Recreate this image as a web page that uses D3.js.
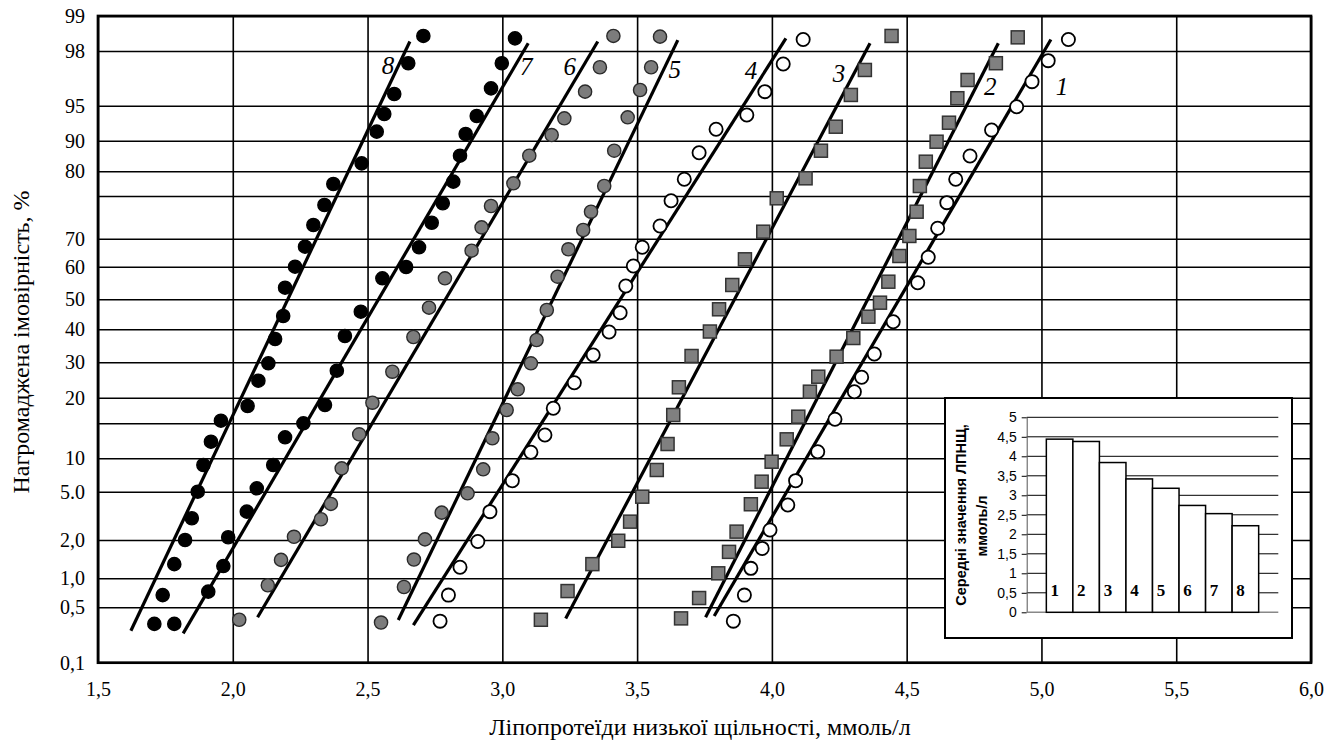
<!DOCTYPE html>
<html>
<head>
<meta charset="utf-8">
<script src="https://cdnjs.cloudflare.com/ajax/libs/d3/7.8.5/d3.min.js"></script>
<style>
  body { margin: 0; background: #fff; }
  svg text { fill: #000; }
</style>
</head>
<body>
<div id="chart"></div>
<script>
// ---- data: LDL values (mmol/l) and cumulative probability (%) per group ----
var s1x = [5.100, 5.025, 4.965, 4.908, 4.815, 4.735, 4.682, 4.649, 4.615, 4.580, 4.541, 4.450, 4.380, 4.333, 4.306, 4.234, 4.170, 4.088, 4.059, 3.993, 3.964, 3.922, 3.898, 3.857];
var s1p = [98.33, 97.47, 96.32, 94.86, 91.53, 85.0, 78.38, 74.22, 71.22, 63.36, 55.09, 42.53, 32.52, 25.76, 21.7, 15.78, 10.94, 6.65, 4.17, 2.62, 1.78, 1.26, 0.71, 0.4];

var s2x = [4.912, 4.831, 4.726, 4.688, 4.657, 4.611, 4.571, 4.549, 4.537, 4.510, 4.473, 4.432, 4.401, 4.358, 4.302, 4.240, 4.172, 4.141, 4.098, 4.055, 3.999, 3.962, 3.922, 3.869, 3.841, 3.801, 3.730, 3.663];
var s2p = [98.39, 97.33, 96.41, 95.41, 92.57, 89.67, 83.14, 77.02, 73.16, 70.32, 63.82, 55.4, 48.87, 44.2, 37.36, 31.7, 25.93, 21.7, 16.29, 12.71, 9.49, 6.5, 4.22, 2.52, 1.69, 1.13, 0.66, 0.42];

var s3x = [4.444, 4.345, 4.293, 4.237, 4.182, 4.125, 4.018, 3.968, 3.900, 3.853, 3.804, 3.770, 3.702, 3.655, 3.634, 3.613, 3.573, 3.519, 3.474, 3.430, 3.334, 3.242, 3.143];
var s3p = [98.43, 96.96, 95.59, 92.0, 86.73, 78.58, 74.73, 70.82, 62.64, 54.39, 46.67, 39.33, 31.91, 22.94, 16.62, 12.04, 8.25, 4.69, 3.14, 1.98, 1.37, 0.78, 0.41];

var s4x = [4.116, 4.042, 3.974, 3.907, 3.793, 3.730, 3.675, 3.626, 3.585, 3.519, 3.486, 3.458, 3.437, 3.396, 3.337, 3.267, 3.189, 3.158, 3.106, 3.037, 2.954, 2.909, 2.843, 2.800, 2.769];
var s4p = [98.33, 97.29, 95.77, 93.67, 91.63, 86.08, 78.38, 74.45, 71.49, 66.93, 60.25, 54.08, 45.53, 39.18, 32.21, 24.24, 17.93, 13.33, 10.86, 6.65, 3.76, 1.96, 1.29, 0.71, 0.4];

var s5x = [3.585, 3.552, 3.511, 3.465, 3.415, 3.378, 3.329, 3.300, 3.245, 3.205, 3.165, 3.127, 3.106, 3.057, 3.016, 2.963, 2.929, 2.871, 2.775, 2.713, 2.672, 2.635, 2.550];
var s5p = [98.41, 97.11, 95.86, 93.34, 86.73, 77.02, 73.16, 71.02, 66.22, 56.93, 46.43, 36.76, 29.72, 22.37, 17.6, 12.86, 8.35, 4.9, 3.7, 2.04, 1.49, 0.85, 0.39];

var s6x = [3.412, 3.362, 3.307, 3.230, 3.183, 3.100, 3.041, 2.958, 2.923, 2.886, 2.787, 2.728, 2.670, 2.592, 2.518, 2.469, 2.404, 2.364, 2.327, 2.227, 2.179, 2.130, 2.024];
var s6p = [98.43, 97.11, 95.77, 93.2, 90.81, 85.1, 77.57, 73.83, 71.33, 65.72, 56.44, 47.2, 37.67, 27.34, 19.02, 13.43, 8.5, 4.24, 3.29, 2.2, 1.48, 0.88, 0.41];

var s7x = [3.047, 2.998, 2.958, 2.905, 2.864, 2.843, 2.818, 2.779, 2.738, 2.691, 2.643, 2.555, 2.475, 2.416, 2.386, 2.342, 2.262, 2.194, 2.150, 2.089, 2.052, 1.983, 1.965, 1.909];
var s7p = [98.36, 97.33, 95.95, 93.53, 90.96, 85.1, 77.9, 74.15, 71.87, 66.93, 59.9, 56.44, 45.87, 37.97, 27.63, 18.57, 15.0, 13.0, 9.0, 5.51, 3.76, 2.17, 1.32, 0.77];

var s8x = [2.707, 2.651, 2.599, 2.562, 2.534, 2.478, 2.373, 2.340, 2.299, 2.268, 2.231, 2.194, 2.187, 2.157, 2.132, 2.095, 2.055, 1.956, 1.919, 1.891, 1.870, 1.848, 1.823, 1.783, 1.740, 1.709, 1.783];
var s8p = [98.43, 97.33, 95.64, 93.81, 91.29, 82.6, 77.43, 73.95, 71.6, 67.14, 60.0, 53.56, 44.43, 37.06, 29.72, 24.8, 18.38, 15.51, 12.37, 9.0, 5.0, 3.35, 2.0, 1.37, 0.71, 0.38, 0.38];

var groups = ["1", "2", "3", "4", "5", "6", "7", "8"];

// fitted lines: upper and lower end of each group's line
var fitX1 = [5.035, 4.840, 4.364, 4.052, 3.651, 3.354, 3.096, 2.657];
var fitP1 = [98.33, 98.22, 98.22, 98.36, 98.31, 98.27, 98.22, 98.27];
var fitX2 = [3.786, 3.754, 3.235, 2.670, 2.614, 2.092, 1.816, 1.622];
var fitP2 = [0.437, 0.428, 0.42, 0.372, 0.408, 0.428, 0.312, 0.331];

// axis ticks
var xTicks = [1.5, 2.0, 2.5, 3.0, 3.5, 4.0, 4.5, 5.0, 5.5, 6.0];
var probTicks = [99, 98, 95, 90, 80, 75, 70, 60, 50, 40, 30, 20, 15, 10, 5, 2, 1, 0.5, 0.1];
var probLabels = ["99", "98", "95", "90", "80", "", "70", "60", "50", "40", "30", "20", "", "10", "5.0", "2,0", "1,0", "0,5", "0,1"];

// inset: mean LDL per group
var barMeans = [4.44, 4.38, 3.84, 3.42, 3.18, 2.74, 2.53, 2.22];
var barTicks = [0, 0.5, 1, 1.5, 2, 2.5, 3, 3.5, 4, 4.5, 5];

// ---- layout ----
var W = 1340, H = 742;
var plot = { left: 98, right: 1311, top: 16, bottom: 662.7 };
// the probability paper rows are hand spaced
var gridY = [16, 51, 105.7, 140.7, 171.3, 196, 238.7, 266.7, 299.3, 329.3, 362.3, 397.7, 423.3, 458.3, 491.7, 540, 578.3, 607.3, 662.7];
var markerType = ["open", "square", "square", "open", "gray", "gray", "black", "black"];
var labelOffsets = [[11, 47], [-8, 43], [-31, 30], [-35, 32], [-3, 29], [-28, 25], [-2, 23], [-22, 24]];
var inset = { left: 945, top: 398, right: 1292, bottom: 638, plotLeft: 1026.7, plotRight: 1278.3, plotTop: 417.3, plotBottom: 612.3 };

var serif = "'Liberation Serif', 'Times New Roman', Times, serif";
var sans = "'Liberation Sans', Arial, Helvetica, sans-serif";

var svg = d3.select("#chart").append("svg")
    .attr("width", W)
    .attr("height", H)
    .attr("font-family", serif);

svg.append("rect").attr("width", W).attr("height", H).attr("fill", "#fff");

var x = d3.scaleLinear().domain([1.5, 6]).range([plot.left, plot.right]);
var y = d3.scaleLinear().domain(probTicks).range(gridY);

// horizontal rows + labels
var yAxis = svg.append("g")
    .attr("transform", "translate(" + plot.left + ",0)")
    .call(d3.axisLeft(y)
        .tickValues(probTicks)
        .tickFormat(function (d, i) { return probLabels[i]; })
        .tickSizeInner(-(plot.right - plot.left))
        .tickSizeOuter(0)
        .tickPadding(13));
yAxis.attr("font-family", serif).attr("font-size", 20);
yAxis.select(".domain").remove();
yAxis.selectAll("line").attr("stroke", "#000").attr("stroke-width", 1.6);

// vertical columns + labels
var xAxis = svg.append("g")
    .attr("transform", "translate(0," + plot.bottom + ")")
    .call(d3.axisBottom(x)
        .tickValues(xTicks)
        .tickFormat(function (d) { return d.toFixed(1).replace(".", ","); })
        .tickSizeInner(-(plot.bottom - plot.top))
        .tickSizeOuter(0)
        .tickPadding(19));
xAxis.attr("font-family", serif).attr("font-size", 20);
xAxis.select(".domain").remove();
xAxis.selectAll("line").attr("stroke", "#000").attr("stroke-width", 1.6);

// frame
svg.append("rect")
    .attr("x", plot.left)
    .attr("y", plot.top)
    .attr("width", plot.right - plot.left)
    .attr("height", plot.bottom - plot.top)
    .attr("fill", "none")
    .attr("stroke", "#000")
    .attr("stroke-width", 2.7);

// axis titles
svg.append("text")
    .attr("transform", "translate(21,342) rotate(-90)")
    .attr("text-anchor", "middle")
    .attr("dominant-baseline", "central")
    .attr("font-size", 24)
    .text("Нагромаджена імовірність, %");

svg.append("text")
    .attr("x", 700)
    .attr("y", 735)
    .attr("text-anchor", "middle")
    .attr("font-size", 24)
    .text("Ліпопротеїди низької щільності, ммоль/л");

// fitted lines
svg.append("g").selectAll("line")
    .data(groups)
    .enter()
    .append("line")
    .attr("x1", function (d, i) { return x(fitX1[i]); })
    .attr("y1", function (d, i) { return y(fitP1[i]); })
    .attr("x2", function (d, i) { return x(fitX2[i]); })
    .attr("y2", function (d, i) { return y(fitP2[i]); })
    .attr("stroke", "#000")
    .attr("stroke-width", 3.2);

// points
var seriesX = [s1x, s2x, s3x, s4x, s5x, s6x, s7x, s8x];
var seriesP = [s1p, s2p, s3p, s4p, s5p, s6p, s7p, s8p];
var points = [];
seriesX.forEach(function (xs, g) {
    xs.forEach(function (v, j) {
        points.push({ g: g, x: v, p: seriesP[g][j] });
    });
});

var pts = svg.append("g");
pts.selectAll("circle")
    .data(points.filter(function (d) { return markerType[d.g] !== "square"; }))
    .enter()
    .append("circle")
    .attr("cx", function (d) { return x(d.x); })
    .attr("cy", function (d) { return y(d.p); })
    .attr("r", 6.6)
    .attr("fill", function (d) {
        var t = markerType[d.g];
        return t === "black" ? "#000" : (t === "gray" ? "#7c7c7c" : "#fff");
    })
    .attr("stroke", function (d) { return markerType[d.g] === "gray" ? "#2a2a2a" : "#000"; })
    .attr("stroke-width", function (d) { return markerType[d.g] === "open" ? 1.8 : 1.4; });

pts.selectAll("rect")
    .data(points.filter(function (d) { return markerType[d.g] === "square"; }))
    .enter()
    .append("rect")
    .attr("x", function (d) { return x(d.x) - 6.5; })
    .attr("y", function (d) { return y(d.p) - 6.5; })
    .attr("width", 13)
    .attr("height", 13)
    .attr("fill", "#808080")
    .attr("stroke", "#333")
    .attr("stroke-width", 1.5);

// group numbers next to the lines
svg.append("g").selectAll("text")
    .data(groups)
    .enter()
    .append("text")
    .attr("x", function (d, i) { return x(fitX1[i]) + labelOffsets[i][0]; })
    .attr("y", function (d, i) { return y(fitP1[i]) + labelOffsets[i][1]; })
    .attr("text-anchor", "middle")
    .attr("dominant-baseline", "central")
    .attr("font-style", "italic")
    .attr("font-size", 25)
    .text(function (d) { return d; });

/*---------------------------- inset bar chart ----------------------------*/
var ins = svg.append("g");
ins.append("rect")
    .attr("x", inset.left)
    .attr("y", inset.top)
    .attr("width", inset.right - inset.left)
    .attr("height", inset.bottom - inset.top)
    .attr("fill", "#fff")
    .attr("stroke", "#000")
    .attr("stroke-width", 2);

var bx = d3.scaleBand()
    .domain(groups)
    .range([inset.plotLeft, inset.plotRight])
    .paddingInner(0)
    .paddingOuter(0.74);

var by = d3.scaleLinear()
    .domain([0, 5])
    .range([inset.plotBottom, inset.plotTop]);

ins.append("g")
    .selectAll("line")
    .data(barTicks.slice(1))
    .enter()
    .append("line")
    .attr("x1", inset.plotLeft)
    .attr("x2", inset.plotRight)
    .attr("y1", function (d) { return by(d); })
    .attr("y2", function (d) { return by(d); })
    .attr("stroke", "#000")
    .attr("stroke-width", 1);

var bAxis = ins.append("g")
    .attr("transform", "translate(" + inset.plotLeft + ",0)")
    .call(d3.axisLeft(by)
        .tickValues(barTicks)
        .tickFormat(function (d) { return String(d).replace(".", ","); })
        .tickSizeInner(5)
        .tickSizeOuter(0)
        .tickPadding(5));
bAxis.attr("font-family", sans).attr("font-size", 14);
bAxis.select(".domain").attr("stroke", "#555");
bAxis.selectAll("line").attr("stroke", "#000");

ins.append("line")
    .attr("x1", inset.plotLeft)
    .attr("x2", inset.plotRight)
    .attr("y1", by(0))
    .attr("y2", by(0))
    .attr("stroke", "#888")
    .attr("stroke-width", 1.5);

ins.append("g").selectAll("rect")
    .data(groups)
    .enter()
    .append("rect")
    .attr("x", function (d) { return bx(d); })
    .attr("y", function (d, i) { return by(barMeans[i]); })
    .attr("width", bx.bandwidth())
    .attr("height", function (d, i) { return by(0) - by(barMeans[i]); })
    .attr("fill", "#fff")
    .attr("stroke", "#000")
    .attr("stroke-width", 1.5);

ins.append("g").selectAll("text")
    .data(groups)
    .enter()
    .append("text")
    .attr("x", function (d) { return bx(d) + bx.bandwidth() * 0.32; })
    .attr("y", 596)
    .attr("text-anchor", "middle")
    .attr("font-weight", "bold")
    .attr("font-size", 17)
    .text(function (d) { return d; });

ins.append("text")
    .attr("transform", "translate(961,515) rotate(-90)")
    .attr("text-anchor", "middle")
    .attr("dominant-baseline", "central")
    .attr("font-family", sans)
    .attr("font-weight", "bold")
    .attr("font-size", 14.5)
    .text("Середні значення ЛПНЩ,");

ins.append("text")
    .attr("transform", "translate(982,526) rotate(-90)")
    .attr("text-anchor", "middle")
    .attr("dominant-baseline", "central")
    .attr("font-family", sans)
    .attr("font-weight", "bold")
    .attr("font-size", 14.5)
    .text("ммоль/л");
</script>
</body>
</html>
